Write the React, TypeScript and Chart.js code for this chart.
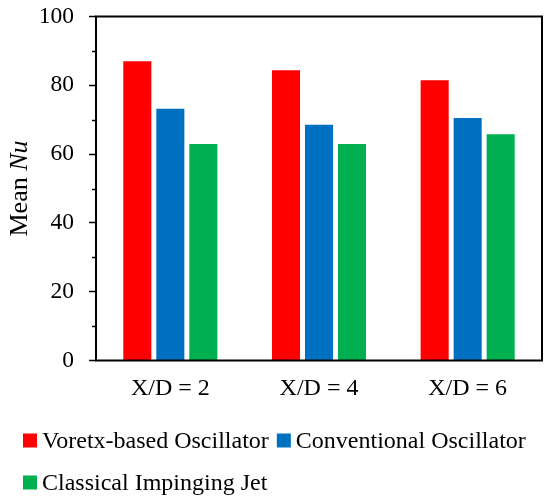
import React, { useEffect, useRef } from "react";
import Chart from "chart.js/auto";

const categories = ["X/D = 2", "X/D = 4", "X/D = 6"];
const seriesNames = ["Voretx-based Oscillator", "Conventional Oscillator", "Classical Impinging Jet"];
const vortexValues = [87, 84.4, 81.5];
const conventionalValues = [73.2, 68.5, 70.5];
const classicalValues = [62.9, 62.9, 65.8];
const seriesColors = ["#FF0000", "#0070C0", "#00B050"];
const yMin = 0;
const yMax = 100;
const yMajorStep = 20;
const yMinorStep = 10;

const FONT = "'Liberation Serif', 'Times New Roman', serif";

// frame round the plot area + short minor ticks on the y axis
const framePlugin = {
  id: "frame",
  afterDraw(chart: any) {
    const { ctx, chartArea } = chart;
    const y = chart.scales.y;
    ctx.save();
    ctx.strokeStyle = "#000";
    ctx.lineWidth = 2;
    ctx.strokeRect(chartArea.left, chartArea.top, chartArea.right - chartArea.left, chartArea.bottom - chartArea.top);
    ctx.lineWidth = 1.5;
    for (let v = yMin; v <= yMax; v += yMinorStep) {
      if (v % yMajorStep === 0) continue;
      const py = Math.round(y.getPixelForValue(v)) + 0.5;
      ctx.beginPath();
      ctx.moveTo(chartArea.left - 4, py);
      ctx.lineTo(chartArea.left, py);
      ctx.stroke();
    }
    ctx.restore();
  },
};

// y title with italic "Nu"
const yTitlePlugin = {
  id: "yTitle",
  afterDraw(chart: any) {
    const { ctx, chartArea } = chart;
    const normal = "26px " + FONT;
    const italic = "italic 26px " + FONT;
    const a = "Mean ";
    const b = "Nu";
    ctx.save();
    ctx.font = normal;
    const wa = ctx.measureText(a).width;
    ctx.font = italic;
    const wb = ctx.measureText(b).width;
    const cy = (chartArea.top + chartArea.bottom) / 2;
    ctx.translate(27, cy);
    ctx.rotate(-Math.PI / 2);
    ctx.fillStyle = "#000";
    ctx.textBaseline = "alphabetic";
    ctx.textAlign = "left";
    const start = -(wa + wb) / 2;
    ctx.font = normal;
    ctx.fillText(a, start, 0);
    ctx.font = italic;
    ctx.fillText(b, start + wa, 0);
    ctx.restore();
  },
};

// legend laid out in rows, left aligned
const legendPlugin = {
  id: "rowLegend",
  afterDraw(chart: any) {
    const { ctx } = chart;
    const box = 14;
    const gap = 5;
    const itemGap = 8;
    const rowHeight = 42;
    let x = 23;
    let y = 440.5;
    ctx.save();
    ctx.font = "24px " + FONT;
    ctx.textBaseline = "middle";
    ctx.textAlign = "left";
    chart.data.datasets.forEach((ds: any) => {
      const w = box + gap + ctx.measureText(ds.label).width;
      if (x > 23 && x + w > chart.width - 4) {
        x = 23;
        y += rowHeight;
      }
      ctx.fillStyle = ds.backgroundColor;
      ctx.fillRect(x, y - box / 2, box, box);
      ctx.fillStyle = "#000";
      ctx.fillText(ds.label, x + box + gap, y + 1);
      x += w + itemGap;
    });
    ctx.restore();
  },
};

export default function App() {
  const canvasRef = useRef<HTMLCanvasElement | null>(null);

  useEffect(() => {
    document.body.style.margin = "0";
    const canvas = canvasRef.current;
    if (!canvas) return;
    const values = [vortexValues, conventionalValues, classicalValues];

    const chart = new Chart(canvas, {
      type: "bar",
      data: {
        labels: categories,
        datasets: seriesNames.map((name, i) => ({
          label: name,
          data: values[i],
          backgroundColor: seriesColors[i],
          borderWidth: 0,
          categoryPercentage: 0.666,
          barPercentage: 0.85,
        })),
      },
      options: {
        animation: false,
        responsive: true,
        maintainAspectRatio: false,
        layout: { padding: { top: 16.5, right: 8, left: 0, bottom: 0 } },
        plugins: {
          legend: { display: false },
          tooltip: { enabled: false },
        },
        scales: {
          x: {
            grid: { display: false, drawTicks: false },
            border: { display: false },
            ticks: { color: "#000", padding: 14, font: { family: FONT, size: 24 } },
            afterFit: (scale: any) => {
              scale.height = 142.5;
              scale.paddingLeft = 0;
              scale.paddingRight = 0;
            },
          },
          y: {
            min: yMin,
            max: yMax,
            grid: { drawOnChartArea: false, tickLength: 7, tickColor: "#000", tickWidth: 1.5 },
            border: { display: false },
            ticks: { stepSize: yMajorStep, color: "#000", padding: 15, font: { family: FONT, size: 23.5 } },
            afterFit: (scale: any) => {
              scale.width = 96;
              scale.paddingTop = 0;
              scale.paddingBottom = 0;
            },
          },
        },
      },
      plugins: [framePlugin, yTitlePlugin, legendPlugin],
    });

    return () => chart.destroy();
  }, []);

  return (
    <div style={{ width: 550, height: 503, position: "relative", background: "#fff" }}>
      <canvas ref={canvasRef}></canvas>
    </div>
  );
}
